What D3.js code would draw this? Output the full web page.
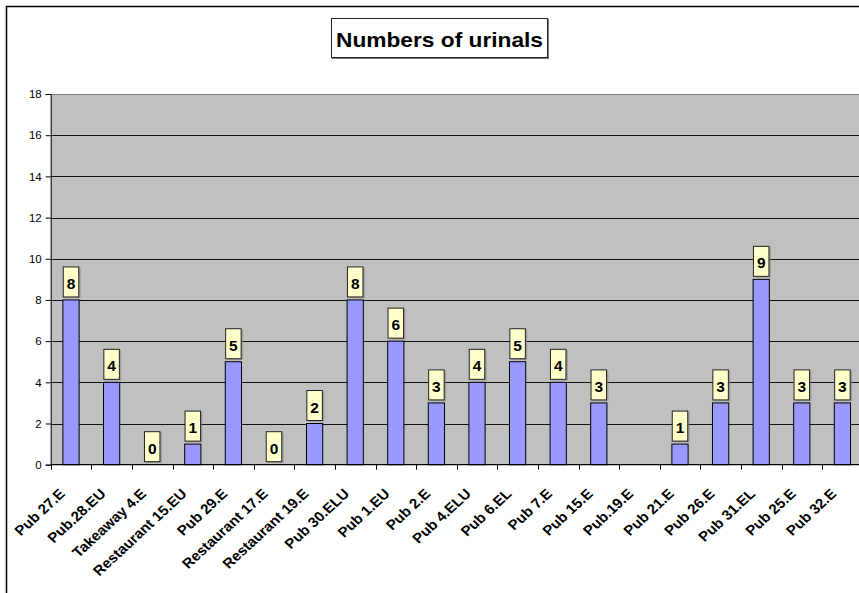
<!DOCTYPE html>
<html><head><meta charset="utf-8">
<script src="https://cdn.jsdelivr.net/npm/d3@7/dist/d3.min.js"></script>
<style>
html,body{margin:0;padding:0;background:#fff;}
svg{display:block;font-family:"Liberation Sans",Arial,sans-serif;}
</style></head><body>
<svg id="chart" width="859" height="593"></svg>
<script>
const title = "Numbers of urinals";
const categories = ["Pub 27.E","Pub.28.EU","Takeaway 4.E","Restaurant 15.EU","Pub 29.E","Restaurant 17.E","Restaurant 19.E","Pub 30.ELU","Pub 1.EU","Pub 2.E","Pub 4.ELU","Pub 6.EL","Pub 7.E","Pub 15.E","Pub.19.E","Pub 21.E","Pub 26.E","Pub 31.EL","Pub 25.E","Pub 32.E"];
const values = [8,4,0,1,5,0,2,8,6,3,4,5,4,3,null,1,3,9,3,3];
const yTicks = [0,2,4,6,8,10,12,14,16,18];

const svg = d3.select("#chart");
const W = 859, H = 593;
const plot = {left:50.7, right:862.7, top:94, bottom:464.7};

// outer chart border
svg.append("rect").attr("x",6.5).attr("y",6.5).attr("width",W+20).attr("height",H+20)
  .attr("fill","#fff").attr("stroke","#000").attr("stroke-width",1.5);

const x = d3.scaleBand().domain(categories).range([plot.left, plot.right]).padding(0);
const y = d3.scaleLinear().domain([0,18]).range([plot.bottom, plot.top]);

// plot area
svg.append("rect").attr("x",plot.left).attr("y",plot.top)
  .attr("width",plot.right-plot.left).attr("height",plot.bottom-plot.top)
  .attr("fill","#C0C0C0");
svg.append("line").attr("x1",plot.left).attr("x2",plot.right)
  .attr("y1",plot.top+0.5).attr("y2",plot.top+0.5).attr("stroke","#808080").attr("stroke-width",1);

// gridlines
svg.append("g").selectAll("line").data(yTicks.filter(t=>t>0 && t<18)).join("line")
  .attr("x1",plot.left).attr("x2",plot.right)
  .attr("y1",d=>Math.round(y(d))+0.5).attr("y2",d=>Math.round(y(d))+0.5)
  .attr("stroke","#111").attr("stroke-width",1);

// y axis
const yAxis = d3.axisLeft(y).tickValues(yTicks).tickSize(5).tickPadding(4).tickFormat(d3.format("d"));
const gy = svg.append("g").attr("transform",`translate(${plot.left},0)`).call(yAxis);
gy.select(".domain").attr("stroke","#000");
gy.selectAll(".tick line").attr("stroke","#000");
gy.selectAll(".tick text").attr("font-size",11.5).attr("fill","#000")
  .attr("font-family","'Liberation Sans',Arial,sans-serif");

// bars
const bw = x.bandwidth()*0.4;
const data = categories.map((c,i)=>({c, v:values[i]}));
svg.append("g").selectAll("rect").data(data.filter(d=>d.v!==null && d.v>0)).join("rect")
  .attr("x",d=>x(d.c)+(x.bandwidth()-bw)/2)
  .attr("y",d=>y(d.v))
  .attr("width",bw)
  .attr("height",d=>y(0)-y(d.v))
  .attr("fill","#9999FF").attr("stroke","#000").attr("stroke-width",1);

// x axis
const gx = svg.append("g");
gx.append("line").attr("x1",plot.left).attr("x2",plot.right)
  .attr("y1",plot.bottom).attr("y2",plot.bottom).attr("stroke","#000").attr("stroke-width",1.2);
const boundaries = categories.map(c=>x(c)).concat([x(categories[categories.length-1])+x.bandwidth()]);
gx.selectAll("line.tk").data(boundaries).join("line").attr("class","tk")
  .attr("x1",d=>Math.round(d)+0.5).attr("x2",d=>Math.round(d)+0.5)
  .attr("y1",plot.bottom).attr("y2",plot.bottom+5).attr("stroke","#000");
gx.selectAll("text").data(categories).join("text")
  .attr("transform",c=>`translate(${x(c)+x.bandwidth()/2-5},${plot.bottom+30}) scale(1.08,1) rotate(-45)`)
  .attr("text-anchor","end")
  .attr("font-size",14).attr("font-weight","bold").attr("fill","#000")
  .text(c=>c);

// value labels
const lab = svg.append("g").selectAll("g").data(data.filter(d=>d.v!==null)).join("g")
  .attr("transform",d=>`translate(${x(d.c)+x.bandwidth()/2},${y(d.v)-2.5})`);
lab.append("rect").attr("x",-7+1.2).attr("y",-31+1.2).attr("width",15.5).attr("height",30.5)
  .attr("fill","#888").attr("opacity",0.6);
lab.append("rect").attr("x",-7.75).attr("y",-30.5).attr("width",15.5).attr("height",30)
  .attr("fill","#FFFFCC").attr("stroke","#222").attr("stroke-width",1);
lab.append("text").attr("x",0).attr("y",-8.4).attr("text-anchor","middle")
  .attr("font-size",15.5).attr("font-weight","bold").attr("fill","#000")
  .text(d=>d.v);

// title
const tg = svg.append("g");
tg.append("rect").attr("x",332).attr("y",19).attr("width",217).attr("height",40).attr("fill","#777");
tg.append("rect").attr("x",331.5).attr("y",18.5).attr("width",216).attr("height",39)
  .attr("fill","#fff").attr("stroke","#222").attr("stroke-width",1);
tg.append("text").attr("x",439.5).attr("y",46.7).attr("text-anchor","middle")
  .attr("font-size",21).attr("font-weight","bold").attr("fill","#000")
  .attr("textLength",207).attr("lengthAdjust","spacingAndGlyphs")
  .text(title);
</script>
</body></html>
